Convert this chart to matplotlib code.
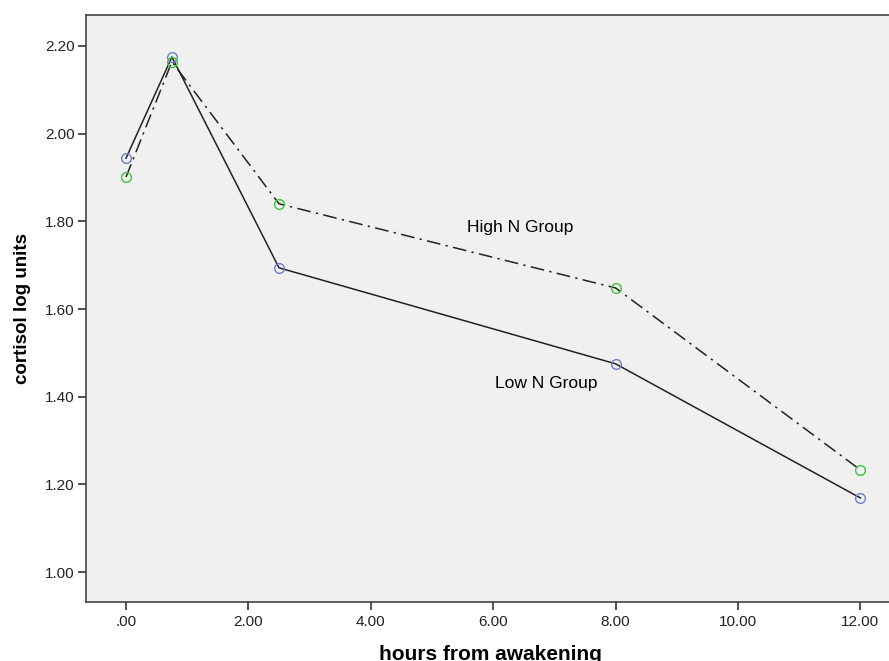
import matplotlib
matplotlib.use("Agg")
import matplotlib.pyplot as plt
from matplotlib.ticker import FuncFormatter

# hours from awakening
hours = [0.0, 0.75, 2.5, 8.0, 12.0]
low_n = [1.944, 2.175, 1.694, 1.475, 1.169]
high_n = [1.901, 2.164, 1.840, 1.648, 1.233]

x_ticks = [0, 2, 4, 6, 8, 10, 12]
y_ticks = [1.0, 1.2, 1.4, 1.6, 1.8, 2.0, 2.2]

plt.rcParams['font.family'] = ['Liberation Sans', 'DejaVu Sans']

fig = plt.figure(figsize=(8.89, 6.61), dpi=100)
ax = fig.add_axes([86 / 889, 59 / 661, 808 / 889, 587 / 661])
ax.set_facecolor('#f0f0f0')

ax.plot(hours, low_n, color='#222222', lw=1.1, zorder=2)
ax.plot(hours, high_n, color='#222222', lw=1.1, linestyle=(0, (9, 3.5, 1.5, 3.5)), zorder=2)
ax.plot(hours, low_n, 'o', ms=7, mfc='none', mec='#6a7fcf', mew=1.0, zorder=3)
ax.plot(hours, high_n, 'o', ms=7, mfc='none', mec='#3ec43e', mew=1.0, zorder=3)

ax.text(6.44, 1.785, 'High N Group', ha='center', va='center', fontsize=12.5)
ax.text(6.87, 1.429, 'Low N Group', ha='center', va='center', fontsize=12.5)

ax.set_xlim(-0.654, 12.55)
ax.set_ylim(0.9316, 2.2707)
ax.set_xticks(x_ticks)
ax.set_yticks(y_ticks)

def fmt(v, pos):
    s = '%.2f' % v
    return s[1:] if s.startswith('0') else s

ax.xaxis.set_major_formatter(FuncFormatter(fmt))
ax.yaxis.set_major_formatter(FuncFormatter(fmt))
ax.tick_params(axis='both', direction='out', length=6, width=1.2, color='#333333', labelsize=11, labelcolor='#222222')
ax.tick_params(axis='x', pad=3)
ax.tick_params(axis='y', pad=2)

for s in ax.spines.values():
    s.set_color('#444444')
    s.set_linewidth(1.2)

ax.set_xlabel('hours from awakening', fontsize=15, fontweight='bold', labelpad=12)
ax.set_ylabel('cortisol log units', fontsize=13.5, fontweight='bold', labelpad=10)

fig.savefig('out.png', dpi=100, facecolor='white')
